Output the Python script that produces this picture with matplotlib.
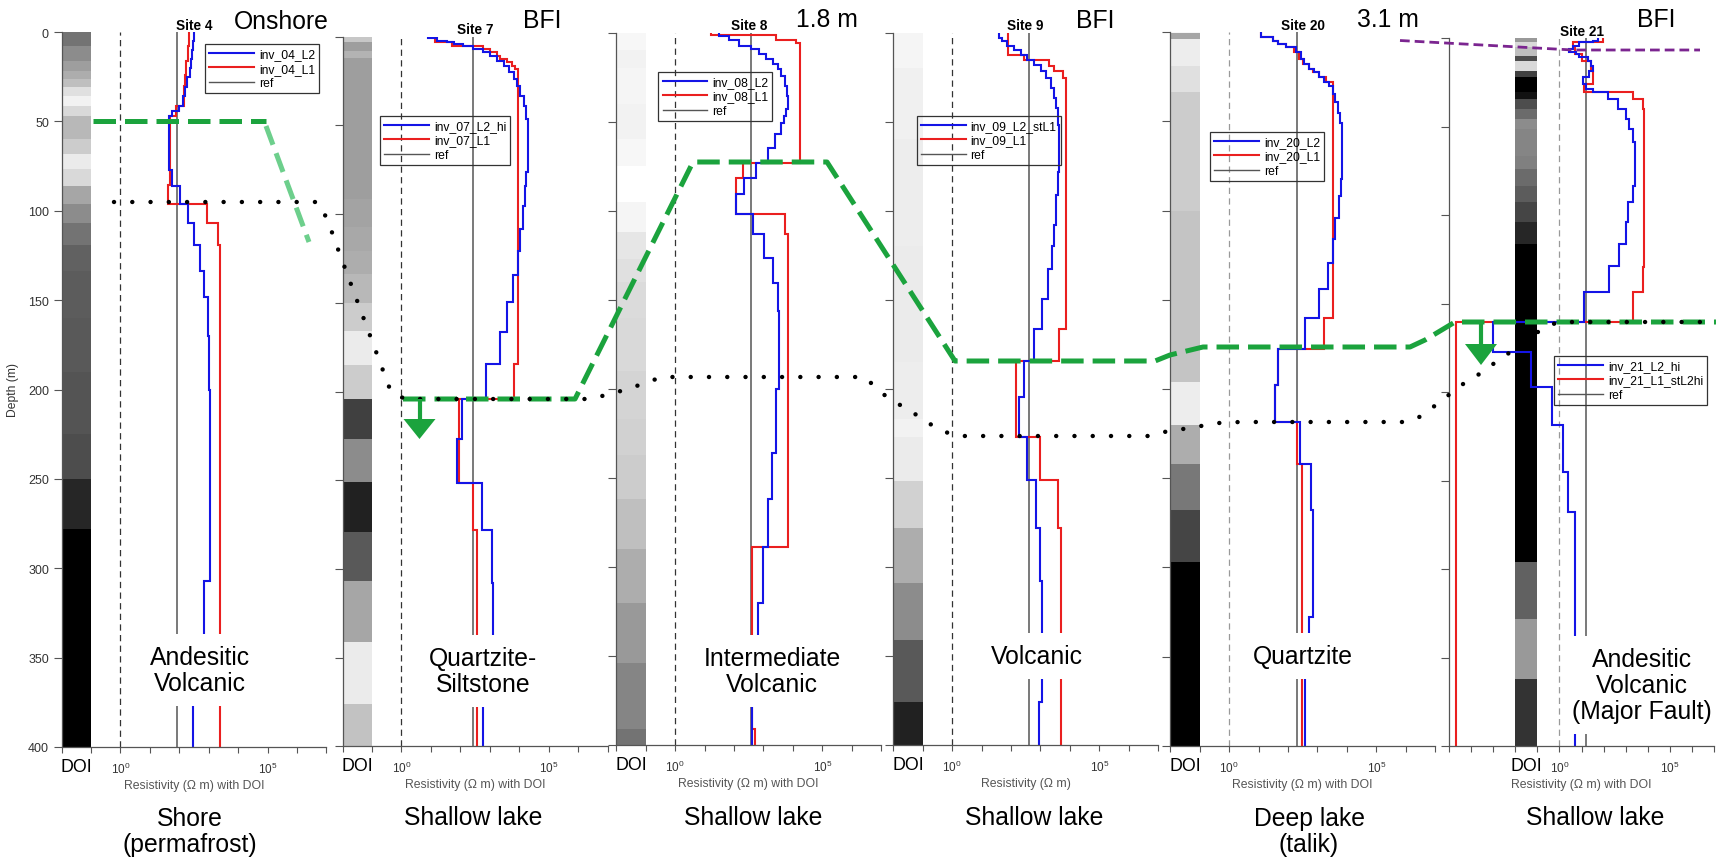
import numpy as np
import matplotlib
matplotlib.use('Agg')
import matplotlib.pyplot as plt
from matplotlib.lines import Line2D
from matplotlib.patches import Polygon
from matplotlib.ticker import NullLocator

plt.rcParams['font.family'] = ['Liberation Sans', 'DejaVu Sans']
plt.rcParams['mathtext.fontset'] = 'custom'
plt.rcParams['mathtext.rm'] = 'Liberation Sans'
plt.rcParams['mathtext.it'] = 'Liberation Sans:italic'

W, H = 1716, 862

# ------------------------------------------------------------------ data
site_names = ['Site 4', 'Site 7', 'Site 8', 'Site 9', 'Site 20', 'Site 21']
legend_blue = ['inv_04_L2', 'inv_07_L2_hi', 'inv_08_L2', 'inv_09_L2_stL1', 'inv_20_L2', 'inv_21_L2_hi']
legend_red = ['inv_04_L1', 'inv_07_L1', 'inv_08_L1', 'inv_09_L1', 'inv_20_L1', 'inv_21_L1_stL2hi']
xlabels = ['Resistivity (\u03a9 m) with DOI'] * 3 + ['Resistivity (\u03a9 m)'] + ['Resistivity (\u03a9 m) with DOI'] * 2
top_labels = ['Onshore', 'BFI', '1.8 m', 'BFI', '3.1 m', 'BFI']
rock_labels = ['Andesitic\nVolcanic', 'Quartzite-\nSiltstone', 'Intermediate\nVolcanic',
               'Volcanic', 'Quartzite', 'Andesitic\nVolcanic\n(Major Fault)']
setting_labels = ['Shore\n(permafrost)', 'Shallow lake', 'Shallow lake', 'Shallow lake',
                  'Deep lake\n(talik)', 'Shallow lake']

# log10 resistivity of reference lines
ref_log = [1.91, 2.42, 2.59, 2.60, 2.29, 1.20]

# Site 4
p1_blue_depth = [0, 5, 10, 15, 20, 25, 31, 35.6, 41.2, 44, 47, 77, 86, 96, 107, 119, 133.5, 148, 170, 200, 307, 345, 400]
p1_blue_log = [2.49, 2.46, 2.43, 2.40, 2.35, 2.27, 2.20, 2.13, 1.98, 1.75, 1.66, 1.75, 2.04, 2.29, 2.51, 2.72, 2.85, 2.99, 3.02, 3.03, 2.85, 2.46]
p1_red_depth = [0, 8, 16, 24, 30, 41.2, 46.8, 85.5, 96, 107, 119, 400]
p1_red_log = [2.32, 2.28, 2.24, 2.20, 2.16, 1.89, 1.68, 1.62, 2.93, 3.30, 3.39]
p1_doi_depth = [0, 7.6, 16, 21.6, 26.3, 30.9, 35.6, 41.2, 46.8, 59.9, 68.3, 76.6, 86, 96, 107, 119, 133.5, 160, 190, 225, 250, 278, 400]
p1_doi_gray = [0.45, 0.55, 0.62, 0.68, 0.75, 0.88, 0.95, 0.85, 0.72, 0.80, 0.92, 0.85, 0.65, 0.55, 0.45, 0.38, 0.36, 0.35, 0.33, 0.30, 0.15, 0.0]

# Site 7
p2_blue_depth = [0, 1, 2.2, 3.1, 4.1, 5, 6.9, 8.8, 10.7, 13.5, 16.3, 20.1, 23.8, 27.6, 33.2, 38.9, 46.4, 76.5, 84, 95.3,
                 108.5, 120.7, 134.4, 149.5, 166.4, 184.6, 204.3, 226.9, 251.3, 278.2, 307.7, 345, 400]
p2_blue_log = [0.89, 1.2, 1.53, 1.8, 2.1, 2.44, 2.78, 3.01, 3.24, 3.47, 3.64, 3.81, 3.92, 4.03, 4.15, 4.23, 4.28, 4.24, 4.18, 4.13,
               4.03, 3.94, 3.8, 3.6, 3.35, 2.86, 2.05, 1.9, 2.72, 3.06, 3.1, 2.76]
p2_red_depth = [0, 2.8, 5, 6.9, 8.8, 10.7, 12.6, 14.4, 16.3, 18.2, 184.6, 204.3, 251.3, 278.2, 400]
p2_red_log = [1.14, 1.7, 2.78, 3.01, 3.24, 3.35, 3.58, 3.75, 3.86, 3.94, 3.83, 1.97, 2.44, 2.58]
p2_doi_depth = [0, 3, 8, 12, 91.5, 107, 121, 134, 150, 166, 185, 204, 227, 251, 279, 307, 341, 376, 400]
p2_doi_gray = [0.78, 0.62, 0.70, 0.62, 0.64, 0.66, 0.68, 0.72, 0.80, 0.92, 0.80, 0.25, 0.55, 0.13, 0.35, 0.65, 0.92, 0.76]

# Site 8
p3_blue_depth = [0, 2.2, 4.1, 7.5, 9.4, 12.2, 15, 17.8, 20.6, 24.4, 30, 35.6, 43.1, 46.8, 50.6, 57.1, 64.6, 73, 81.5, 90.8,
                 102, 113.3, 126.4, 140.5, 156.4, 200, 236, 262, 289, 320, 345, 400]
p3_blue_log = [1.5, 1.84, 2.18, 2.58, 2.86, 3.09, 3.32, 3.49, 3.6, 3.72, 3.8, 3.83, 3.77, 3.69, 3.6, 3.4, 3.15, 2.75, 2.35, 2.07,
               2.64, 3.03, 3.34, 3.49, 3.53, 3.42, 3.29, 3.16, 2.98, 2.8, 2.61]
p3_red_depth = [0, 1.6, 4.1, 6, 73, 81.5, 102, 113.3, 289, 391, 400]
p3_red_log = [1.22, 3.43, 4.11, 4.23, 2.32, 2.07, 3.72, 3.83, 2.62, 2.70]
p3_doi_depth = [0, 10, 20, 40, 60, 75, 95, 112, 127, 140, 160, 190, 217, 237, 262, 290, 320, 354, 391, 400]
p3_doi_gray = [0.97, 0.95, 0.96, 0.95, 0.97, 1.0, 0.96, 0.90, 0.88, 0.86, 0.85, 0.83, 0.82, 0.80, 0.75, 0.68, 0.60, 0.52, 0.45]

# Site 9
p4_blue_depth = [0, 3.1, 5, 7.8, 9.6, 12.5, 15.3, 18.1, 21.8, 25.6, 31.2, 36.9, 42.5, 51.9, 78.3, 91.4, 108.3, 119.6, 132.7, 149.6,
                 166.5, 184.3, 204.9, 227, 251, 278, 308, 376, 400]
p4_blue_log = [1.59, 1.7, 1.88, 2.1, 2.33, 2.56, 2.78, 3.01, 3.18, 3.35, 3.47, 3.52, 3.58, 3.64, 3.58, 3.52, 3.47, 3.41, 3.25, 3.07,
               2.78, 2.44, 2.27, 2.55, 2.86, 3.0, 3.07, 2.95]
p4_red_depth = [0, 12.5, 15.3, 18.8, 21.8, 25.6, 166.5, 184.3, 227, 251, 278, 400]
p4_red_log = [1.91, 2.44, 3.3, 3.47, 3.75, 3.86, 3.64, 2.16, 3.0, 3.61, 3.69]
p4_doi_depth = [0, 20, 60, 120, 185, 217, 227, 252, 278, 309, 341, 376, 400]
p4_doi_gray = [0.96, 0.94, 0.93, 0.92, 0.93, 0.95, 0.92, 0.82, 0.68, 0.55, 0.35, 0.13]

# Site 20
p5_blue_depth = [0, 2.8, 4.7, 6.6, 8.4, 11.3, 15, 17.8, 20.6, 22.5, 25.3, 28.1, 30, 34.7, 39.3, 45, 50.6, 82.4, 91.8, 104,
                 116.1, 129.2, 144.2, 160.1, 177.5, 197.5, 218.5, 242, 268, 296, 328, 345, 400]
p5_blue_log = [1.08, 1.48, 1.65, 1.93, 2.27, 2.44, 2.56, 2.73, 2.9, 3.07, 3.24, 3.41, 3.52, 3.58, 3.69, 3.78, 3.84, 3.8, 3.72, 3.6,
               3.52, 3.35, 3.07, 2.59, 1.65, 1.57, 2.41, 2.77, 2.86, 2.84, 2.71, 2.57]
p5_red_depth = [0, 2.8, 4.7, 6.6, 8.4, 11.3, 15, 17.8, 20.6, 22.5, 25.3, 28.1, 160.1, 177.5, 197.5, 218.5, 242, 400]
p5_red_log = [1.08, 1.5, 1.65, 1.93, 2.2, 2.38, 2.52, 2.73, 2.85, 3.07, 3.3, 3.52, 3.24, 1.65, 1.57, 2.29, 2.46]
p5_doi_depth = [0, 0.6, 3.7, 18.7, 33.4, 100, 196, 220, 242, 268, 297, 400]
p5_doi_gray = [0.97, 0.65, 0.93, 0.88, 0.80, 0.77, 0.93, 0.68, 0.47, 0.27, 0.0]

# Site 21
p6_blue_depth = [0, 1.5, 2.5, 4.3, 6.2, 7.7, 9.0, 10.9, 12.8, 15.6, 18.5, 22.2, 26.0, 28.8, 30.7, 34.5, 40.1, 45.8, 51.4, 59,
                 83.4, 92.9, 104.2, 116.4, 128.7, 143.7, 160.3, 177.2, 197.3, 218.6, 245, 268, 400]
p6_blue_log = [1.73, 1.5, 0.9, 0.6, 0.45, 0.75, 0.9, 1.28, 1.43, 1.5, 1.36, 1.08, 1.2, 1.5, 2.18, 2.64, 3.01, 3.16, 3.31, 3.43,
               3.31, 3.09, 3.01, 2.71, 2.26, 1.13, -3.0, -1.28, -0.33, 0.15, 0.4, 0.72]
p6_red_depth = [0, 2.5, 5, 9, 12.8, 18.5, 26, 30.7, 34.5, 40.1, 129.4, 143.7, 160.3, 400]
p6_red_log = [1.96, 0.6, 0.7, 1.0, 1.45, 1.5, 1.13, 3.31, 3.77, 3.84, 3.77, 3.31, -4.7]
p6_doi_depth = [0, 2, 5, 10, 12.8, 18.5, 22.2, 30.7, 34.5, 40.1, 45.8, 51.4, 66.5, 74, 83.4, 92.9, 104.2, 116.4, 296, 328, 362, 400]
p6_doi_gray = [0.6, 0.85, 0.75, 0.3, 0.85, 0.25, 0.0, 0.07, 0.3, 0.42, 0.55, 0.52, 0.5, 0.42, 0.36, 0.27, 0.15, 0.0, 0.38, 0.6, 0.2]

blue_depths = [p1_blue_depth, p2_blue_depth, p3_blue_depth, p4_blue_depth, p5_blue_depth, p6_blue_depth]
blue_logs = [p1_blue_log, p2_blue_log, p3_blue_log, p4_blue_log, p5_blue_log, p6_blue_log]
red_depths = [p1_red_depth, p2_red_depth, p3_red_depth, p4_red_depth, p5_red_depth, p6_red_depth]
red_logs = [p1_red_log, p2_red_log, p3_red_log, p4_red_log, p5_red_log, p6_red_log]
doi_depths = [p1_doi_depth, p2_doi_depth, p3_doi_depth, p4_doi_depth, p5_doi_depth, p6_doi_depth]
doi_grays = [p1_doi_gray, p2_doi_gray, p3_doi_gray, p4_doi_gray, p5_doi_gray, p6_doi_gray]

# ------------------------------------------------------------------ layout (pixels)
panel_left = [61.5, 342.6, 616.2, 893.2, 1170.2, 1449.0]
panel_top = [33.0, 37.7, 33.5, 33.5, 33.3, 39.0]
panel_bottom = [748.0, 747.3, 746.0, 746.0, 746.7, 747.0]
panel_width = 265.0
panel_xmin_exp = [-2, -2, -2, -2, -2, -5]
xmax_exp = 7
legend_anchor = [(205, 45), (380, 116.7), (658.3, 72.7), (916.7, 116.7), (1210, 132.7), (1554, 356.7)]
dash_colors = ['#333333', '#333333', '#333333', '#333333', '#999999', '#999999']

top_label_x = [281.7, 542.5, 827.0, 1095.0, 1387.5, 1656.7]
top_label_y = [29.3, 28.3, 27.3, 28.3, 27.3, 27.3]
rock_x = [200, 483, 772, 1037, 1303, 1642]
rock_y = [671, 671.7, 671.7, 657, 657, 686]
setting_x = [190, 473, 753, 1034, 1309, 1595]
setting_y = [831.7, 818.3, 818.3, 818.3, 832, 818.3]

green_p1_x = [93, 266]
green_p1_y = [122, 122]
green_light_x = [266, 309]
green_light_y = [127, 243]
green_x = [403, 575, 693, 827, 955, 1155, 1170, 1203, 1410, 1425, 1455, 1716]
green_y = [400, 400, 163, 163, 362, 362, 356, 348, 348, 341, 323, 323]
dot_x = [114, 318, 326, 333, 339, 352, 365, 378, 391, 405, 590, 610, 628, 645, 662, 865, 880, 895, 912, 930,
         950, 962, 1150, 1164, 1183, 1201, 1219, 1240, 1405, 1422, 1437, 1450, 1467, 1483, 1497, 1512, 1542, 1558, 1716]
dot_y = [203, 203, 218, 236, 253, 288, 323, 358, 393, 400, 400, 395, 390, 384, 378, 378, 393, 403, 413, 425,
         435, 437, 437, 433, 430, 427, 424, 423, 423, 417, 405, 395, 382, 373, 362, 352, 330, 323, 323]
purple_x = [1400, 1573, 1700]
purple_y = [41.5, 51, 51]
arrow_x = [419.5, 1481]
arrow_top = [400, 323]
arrow_base = [420, 345]
arrow_tip = [440, 366]

BLUE = '#1414e6'
RED = '#ea1f1f'
REF = '#555555'
GREEN = '#1ba33d'
GREEN_LIGHT = '#6dcf8c'
PURPLE = '#7b2590'

fig = plt.figure(figsize=(W / 100, H / 100), dpi=100)

axes = []
for i in range(6):
    l, t, b = panel_left[i], panel_top[i], panel_bottom[i]
    ax = fig.add_axes([l / W, 1 - b / H, panel_width / W, (b - t) / H])
    axes.append(ax)
    ax.set_xscale('log')
    ax.set_xlim(10.0 ** panel_xmin_exp[i], 10.0 ** xmax_exp)
    ax.set_ylim(400, 0)
    ax.patch.set_alpha(0)

    # DOI column
    de = np.array(doi_depths[i], dtype=float)
    ax.barh(de[:-1], 0.1 - 0.01, height=np.diff(de), left=0.01, align='edge',
            color=[str(g) for g in doi_grays[i]], linewidth=0, zorder=1)

    ax.axvline(1.0, color=dash_colors[i], lw=0.9, ls=(0, (5, 3.5)), zorder=1.5)
    ax.axvline(10.0 ** ref_log[i], color=REF, lw=1.1, zorder=1.6)

    ax.stairs(10.0 ** np.array(red_logs[i]), red_depths[i], orientation='horizontal',
              baseline=None, color=RED, lw=1.5, zorder=2)
    ax.stairs(10.0 ** np.array(blue_logs[i]), blue_depths[i], orientation='horizontal',
              baseline=None, color=BLUE, lw=1.5, zorder=2.5)

    # axes style
    for s in ['top', 'right']:
        ax.spines[s].set_visible(False)
    for s in ['left', 'bottom']:
        ax.spines[s].set_color('#555555')
        ax.spines[s].set_linewidth(0.9)
    exps = list(range(panel_xmin_exp[i], xmax_exp + 1))
    ax.set_xticks([10.0 ** k for k in exps])
    ax.set_xticklabels([r'$10^{%d}$' % k if k in (0, 5) else '' for k in exps])
    ax.xaxis.set_minor_locator(NullLocator())
    ax.tick_params(axis='x', direction='out', length=4, width=0.8, color='#555555',
                   labelsize=8.5, labelcolor='#333333', pad=6)
    ax.set_yticks(range(0, 401, 50))
    if i == 0:
        ax.set_yticklabels([str(v) for v in range(0, 401, 50)])
    else:
        ax.set_yticklabels([])
    ax.tick_params(axis='y', direction='out', length=6, width=0.8, color='#555555',
                   labelsize=9, labelcolor='#333333', pad=3)

    ax.set_title(site_names[i], fontsize=9.8, fontweight='bold', pad=2.5)
    ax.annotate('DOI', xy=(10 ** -1.5, 0), xycoords=('data', 'axes fraction'),
                xytext=(0, -24), textcoords='offset pixels', ha='center', va='baseline',
                fontsize=12.8)
    ax.annotate(xlabels[i], xy=(0.5, 0), xycoords='axes fraction', xytext=(0, -41),
                textcoords='offset pixels', ha='center', va='baseline', fontsize=8.8,
                color='#555555')

    handles = [Line2D([], [], color=BLUE, lw=1.5), Line2D([], [], color=RED, lw=1.5),
               Line2D([], [], color=REF, lw=1.0)]
    ax_, ay_ = legend_anchor[i]
    leg = ax.legend(handles, [legend_blue[i], legend_red[i], 'ref'], loc='upper left',
                    bbox_to_anchor=(ax_ / W, 1 - ay_ / H), bbox_transform=fig.transFigure,
                    fontsize=8.7, frameon=True, fancybox=False, facecolor='none',
                    edgecolor='#333333', framealpha=1, borderpad=0.35, labelspacing=0.2,
                    handlelength=3.7, handletextpad=0.4, borderaxespad=0)
    leg.get_frame().set_linewidth(0.9)
    leg.set_zorder(5)

# ------------------------------------------------------------------ overlay annotations
ov = fig.add_axes([0, 0, 1, 1], zorder=10)
ov.set_xlim(0, W)
ov.set_ylim(H, 0)
ov.axis('off')
ov.patch.set_alpha(0)

ov.text(13, 390, 'Depth (m)', rotation=90, ha='center', va='center', fontsize=8.7, color='#333333')

for i in range(6):
    ov.text(top_label_x[i], top_label_y[i], top_labels[i], ha='center', va='baseline', fontsize=17.8)
    ov.text(rock_x[i], rock_y[i], rock_labels[i], ha='center', va='center', fontsize=17.8,
            linespacing=1.1, bbox=dict(boxstyle='square,pad=0.45', fc='white', ec='none'))
    ov.text(setting_x[i], setting_y[i], setting_labels[i], ha='center', va='center',
            fontsize=17.8, linespacing=1.1)

ov.plot(green_p1_x, green_p1_y, color=GREEN, lw=3.6, ls=(0, (4.5, 1.8)))
ov.plot(green_light_x, green_light_y, color=GREEN_LIGHT, lw=3.6, ls=(0, (4.0, 1.8)))
ov.plot(green_x, green_y, color=GREEN, lw=3.6, ls=(0, (4.5, 1.8)))
ov.plot(dot_x, dot_y, color='black', lw=3.2, ls=(0, (0.01, 4.1)), dash_capstyle='round')
ov.plot(purple_x, purple_y, color=PURPLE, lw=2.0, ls=(0, (3.5, 1.8)))

for k in range(2):
    ov.plot([arrow_x[k], arrow_x[k]], [arrow_top[k], arrow_base[k] + 1], color=GREEN, lw=3.0,
            solid_capstyle='butt')
    ov.add_patch(Polygon([(arrow_x[k] - 16, arrow_base[k]), (arrow_x[k] + 16, arrow_base[k]),
                          (arrow_x[k], arrow_tip[k])], closed=True, color=GREEN, lw=0))

fig.savefig('out.png', dpi=100)
